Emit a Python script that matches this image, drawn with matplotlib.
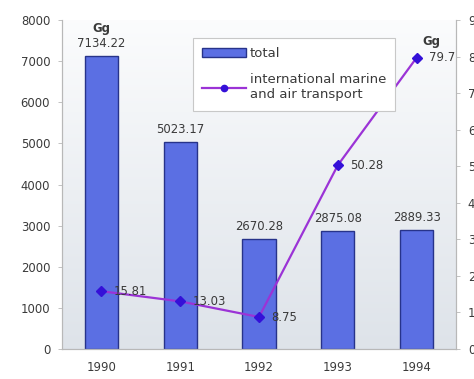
import numpy as np
import matplotlib
matplotlib.use("Agg")
import matplotlib.pyplot as plt
from matplotlib.lines import Line2D
from matplotlib.patches import Patch

plt.rcParams['font.family'] = ['DejaVu Sans']

years = ["1990", "1991", "1992", "1993", "1994"]
total = [7134.22, 5023.17, 2670.28, 2875.08, 2889.33]
transport = [15.81, 13.03, 8.75, 50.28, 79.7]
total_labels = ["7134.22", "5023.17", "2670.28", "2875.08", "2889.33"]
transport_labels = ["15.81", "13.03", "8.75", "50.28", "79.7"]

TXT = '#3a3a3a'
FS = 8.4

fig = plt.figure(figsize=(4.74, 3.79), dpi=100)
ax = fig.add_axes([0.1308, 0.0792, 0.962 - 0.1308, 0.947 - 0.0792])
x = np.arange(len(years))

# soft vertical gradient behind the plot area
grad = np.linspace(0, 1, 256).reshape(-1, 1)
top = np.array([0.985, 0.988, 0.992])
bot = np.array([0.87, 0.89, 0.915])
img = top + (bot - top) * grad[:, :, None] * np.ones((1, 1, 3))
ax.imshow(img, extent=[-0.5, 4.5, 0, 8000], aspect='auto', zorder=0, origin='upper')

ax.bar(x, total, width=0.42, color='#5b6fe3', edgecolor='#27338a',
       linewidth=1.0, zorder=2, label='total')
ax.set_xlim(-0.5, 4.5)
ax.set_ylim(0, 8000)
ax.set_yticks(np.arange(0, 8001, 1000))
ax.set_xticks(x)
ax.set_xticklabels(years)
for xi, v, lab in zip(x, total, total_labels):
    ax.annotate(lab, (xi, v), xytext=(0, 6), textcoords='offset pixels',
                ha='center', va='bottom', fontsize=FS, color=TXT, zorder=5)
ax.annotate("Gg", (x[0], total[0]), xytext=(0, 21), textcoords='offset pixels',
            ha='center', va='bottom', fontsize=FS, color=TXT, fontweight='bold')

ax2 = ax.twinx()
ax2.set_ylim(0, 90)
ax2.set_yticks(np.arange(0, 91, 10))
ax2.plot(x, transport, color='#9b33d6', lw=1.6, marker='D', markersize=5.5,
         markerfacecolor='#3410d8', markeredgecolor='#3410d8', zorder=4)
for xi, v, lab in zip(x, transport, transport_labels):
    ax2.annotate(lab, (xi, v), xytext=(12, 0), textcoords='offset pixels',
                 ha='left', va='center', fontsize=FS, color=TXT, zorder=5)
ax2.annotate("Gg", (x[4], transport[4]), xytext=(15, 10), textcoords='offset pixels',
             ha='center', va='bottom', fontsize=FS, color=TXT, fontweight='bold')

for a in (ax, ax2):
    a.spines['top'].set_visible(False)
    for s in ('left', 'right', 'bottom'):
        a.spines[s].set_color('#b8b8b8')
        a.spines[s].set_linewidth(0.8)
    a.tick_params(axis='both', labelsize=FS, labelcolor=TXT, length=3,
                  width=0.6, direction='out', color='#b8b8b8', pad=5.5)
ax.tick_params(axis='x', length=0, pad=9)

handles = [Patch(facecolor='#5b6fe3', edgecolor='#27338a', label='total'),
           Line2D([0], [0], color='#9b33d6', lw=1.6, marker='o', markersize=4.5,
                  markerfacecolor='#3410d8', markeredgecolor='#3410d8',
                  label='international marine\nand air transport')]
leg = fig.legend(handles=handles, loc='upper left',
                 bbox_to_anchor=(193 / 474, 1 - 38 / 379),
                 fontsize=9.5, frameon=True, fancybox=False, framealpha=1,
                 edgecolor='#c8c8c8', handlelength=3.3, handletextpad=0.3,
                 borderpad=0.7, borderaxespad=0, labelspacing=1.0,
                 handleheight=0.75, labelcolor=TXT)
leg.get_frame().set_linewidth(0.8)

fig.savefig("out.png", dpi=100)
